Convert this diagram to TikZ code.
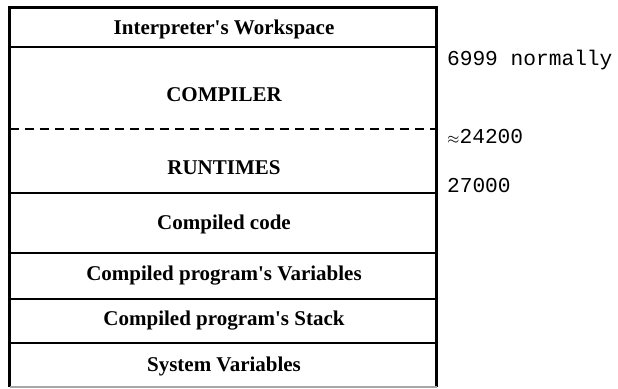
\documentclass[tikz,border=0pt]{standalone}
\usepackage{fontspec}
\setmainfont{Liberation Serif}
% plain families: no TeX ligature mapping, so ' stays a straight quote
\newfontfamily\labelfont{Liberation Serif}
\newfontfamily\monofont{Liberation Mono}
\begin{document}
\begin{tikzpicture}[x=0.5pt,y=-0.5pt,
  region/.style={font=\fontsize{10.5}{12}\selectfont\labelfont\bfseries, anchor=center},
  addr/.style={font=\fontsize{10.6}{12}\selectfont\monofont, anchor=west},
  divider/.style={line width=1pt},
  frame/.style={line width=1.5pt}]
\useasboundingbox (0,0) rectangle (618,389);
% outer frame
\coordinate (tl) at (10,8);
\coordinate (tr) at (437,8);
\coordinate (bl) at (10,387);
\coordinate (br) at (437,387);
\draw[frame] (bl) -- (tl) -- (tr) -- (br);
\draw[line width=0.6pt, black!35] (bl) -- (br);
% dividers
\draw[divider] (10,47) -- (437,47);
\draw[divider, dash pattern=on 4.5pt off 3pt] (10,129) -- (437,129);
\draw[divider] (10,193) -- (437,193);
\draw[divider] (10,253) -- (437,253);
\draw[divider] (10,299) -- (437,299);
\draw[divider] (10,343) -- (437,343);
% region labels
\node[region] (ws)   at (224,29)  {Interpreter's Workspace};
\node[region] (comp) at (224,95)  {COMPILER};
\node[region] (rt)   at (224,168) {RUNTIMES};
\node[region] (code) at (224,224) {Compiled code};
\node[region] (vars) at (224,276) {Compiled program's Variables};
\node[region] (stk)  at (224,321) {Compiled program's Stack};
\node[region] (sys)  at (224,366) {System Variables};
% addresses
\node[addr] (a1) at (440,60)  {6999 normally};
\node[addr] (a2) at (440,137) {{\fontsize{7}{8}\selectfont$\approx$}24200};
\node[addr] (a3) at (440,186) {27000};
\end{tikzpicture}
\end{document}
